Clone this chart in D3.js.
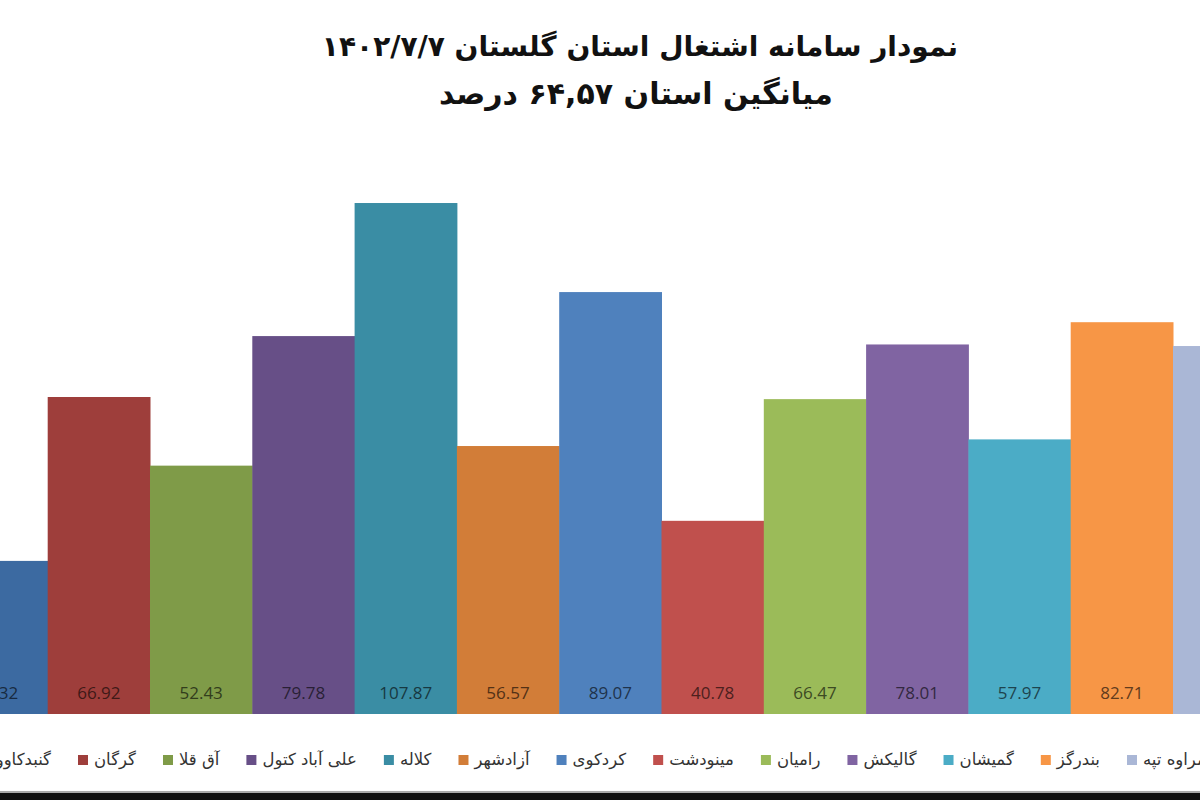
<!DOCTYPE html>
<html><head><meta charset="utf-8">
<script src="https://cdn.jsdelivr.net/npm/d3@7/dist/d3.min.js"></script>
<style>body{margin:0;background:#fff;}svg{display:block;}</style>
</head><body>
<svg id="c" width="1200" height="800"></svg>
<script>
const titleLines = ["نمودار سامانه اشتغال استان گلستان ۱۴۰۲/۷/۷", "میانگین استان ۶۴,۵۷ درصد"];
const categories = ["گنبدکاووس","گرگان","آق قلا","علی آباد کتول","کلاله","آزادشهر","کردکوی","مینودشت","رامیان","گالیکش","گمیشان","بندرگز","مراوه تپه"];
const values = [32.32, 66.92, 52.43, 79.78, 107.87, 56.57, 89.07, 40.78, 66.47, 78.01, 57.97, 82.71, 77.68];
const colors = ["#3c6aa1","#9e3e3b","#7f9b48","#674f87","#3a8da4","#d27d38","#4f81bd","#c0504d","#9bbb59","#8064a2","#4bacc6","#f79646","#aab7d6"];

const svg = d3.select("#c");
const baseY = 714;
const x = d3.scaleBand().domain(categories).range([-54.6, -54.6 + 13 * 102.3]).padding(0);
const y = d3.scaleLinear().domain([0, 120]).range([baseY, baseY - 120 * 4.737]);

svg.append("g").selectAll("rect").data(values).join("rect")
  .attr("x", (d, i) => x(categories[i]))
  .attr("width", x.bandwidth() + 0.5)
  .attr("y", d => y(d))
  .attr("height", d => y(0) - y(d))
  .attr("fill", (d, i) => colors[i]);

svg.append("g").selectAll("text").data(values).join("text")
  .attr("x", (d, i) => x(categories[i]) + x.bandwidth() / 2)
  .attr("y", 699)
  .attr("text-anchor", "middle")
  .attr("font-family", "'Open Sans', 'DejaVu Sans', sans-serif")
  .attr("font-size", 17)
  .attr("fill", (d, i) => d3.color(colors[i]).darker(2.6).formatHex())
  .text(d => d3.format(".2f")(d));

// title
svg.append("g").selectAll("text").data(titleLines).join("text")
  .attr("x", (d, i) => i === 0 ? 640 : 636)
  .attr("y", (d, i) => i === 0 ? 56 : 104)
  .attr("text-anchor", "middle")
  .attr("font-family", "'DejaVu Sans', sans-serif")
  .attr("font-weight", "bold")
  .attr("font-size", (d, i) => i === 0 ? 28 : 30)
  .attr("fill", "#111")
  .text(d => d);

// legend
const lg = svg.append("g");
const items = categories.map((c, i) => {
  const g = lg.append("g");
  g.append("rect").attr("width", 10).attr("height", 10).attr("y", 755).attr("fill", colors[i]);
  const t = g.append("text").attr("y", 765).attr("x", 16)
    .attr("font-family", "'DejaVu Sans', sans-serif").attr("font-size", 16.5)
    .attr("fill", "#333").attr("text-anchor", "start").text(c);
  const w = t.node().getComputedTextLength();
  return {g, w};
});
// spread items 1..12 between the first and last legend swatch positions
const firstX = 78, lastX = 1127;
const inner = d3.sum(items.slice(1, 12), it => 16 + it.w);
const gap = (lastX - firstX - inner) / 11;
let pos = firstX - (16 + items[0].w + gap);
items.forEach(it => { it.g.attr("transform", `translate(${pos},0)`); pos += 16 + it.w + gap; });

// bottom frame strip
svg.append("rect").attr("x", 0).attr("y", 791).attr("width", 1200).attr("height", 2).attr("fill", "#aaa");
svg.append("rect").attr("x", 0).attr("y", 793).attr("width", 1200).attr("height", 7).attr("fill", "#111");
</script>
</body></html>
